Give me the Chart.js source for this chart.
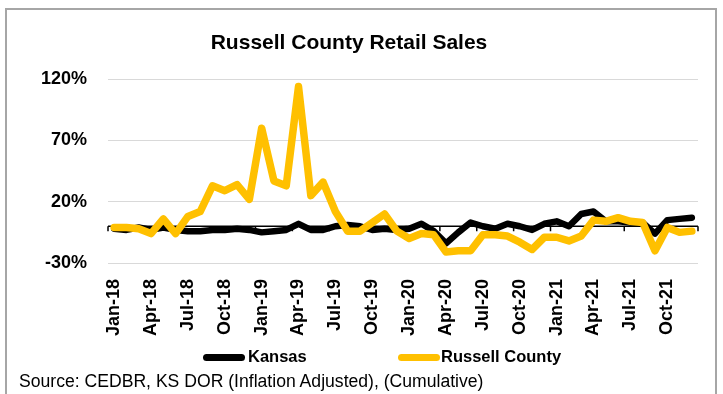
<!DOCTYPE html>
<html>
<head>
<meta charset="utf-8">
<script src="https://cdn.jsdelivr.net/npm/chart.js@4"></script>
<style>
  html, body { margin:0; padding:0; background:#fff; }
  #wrap { position:relative; width:723px; height:394px; overflow:hidden; font-family:"Liberation Sans", Arial, sans-serif; }
  #frame { position:absolute; left:5px; top:8px; width:712px; height:400px; border:2px solid #A6A6A6; box-sizing:border-box; }
  canvas { position:absolute; left:0; top:0; }
  .sw { position:absolute; height:7px; border-radius:3.5px; }
  .lt { position:absolute; font-weight:bold; font-size:16.5px; line-height:1; color:#000; white-space:nowrap; }
  #src { position:absolute; left:19px; top:373px; font-size:17.6px; line-height:1; color:#000; white-space:nowrap; }
</style>
</head>
<body>
<div id="wrap">
  <div id="frame"></div>
  <canvas id="c" width="723" height="394"></canvas>
  <div class="sw" style="left:203px; top:354px; width:42px; background:#000;"></div>
  <div class="lt" style="left:248px; top:348px;">Kansas</div>
  <div class="sw" style="left:398px; top:354px; width:42px; background:#FFC000;"></div>
  <div class="lt" style="left:441px; top:348px;">Russell County</div>
  <div id="src">Source: CEDBR, KS DOR (Inflation Adjusted), (Cumulative)</div>
</div>
<script>
const months = [
  "Jan-18","Feb-18","Mar-18","Apr-18","May-18","Jun-18","Jul-18","Aug-18","Sep-18","Oct-18","Nov-18","Dec-18",
  "Jan-19","Feb-19","Mar-19","Apr-19","May-19","Jun-19","Jul-19","Aug-19","Sep-19","Oct-19","Nov-19","Dec-19",
  "Jan-20","Feb-20","Mar-20","Apr-20","May-20","Jun-20","Jul-20","Aug-20","Sep-20","Oct-20","Nov-20","Dec-20",
  "Jan-21","Feb-21","Mar-21","Apr-21","May-21","Jun-21","Jul-21","Aug-21","Sep-21","Oct-21","Nov-21","Dec-21"
];
const kansas = [
  -2, -3, -1, -3, -1, -3, -4, -4, -3, -3, -2, -3,
  -5, -4, -3,  2, -3, -3,  0,  1,  0, -3, -2, -3,
  -2,  2, -4, -14, -5, 3,  0, -2,  2,  0, -3,  2,
   4,  0, 10, 12,  4,  4,  3,  3, -6,  5,  6,  7
];
const russell = [
  -1, -1, -2, -6,  6, -6,  8, 12, 33, 29, 34, 22,
  80, 37, 33, 114, 25, 36, 12, -4, -4,  3, 10, -4,
  -10, -6, -7, -21, -20, -20, -7, -7, -8, -13, -19, -9,
  -9, -12, -8,  5,  4,  7,  4,  3, -20, -1, -5, -4
];
const yTicks = [-30, 20, 70, 120];
const labelEvery = 3;

const zeroAxis = {
  id: 'zeroAxis',
  beforeDatasetsDraw(chart) {
    const { ctx, chartArea, scales } = chart;
    const y0 = scales.y.getPixelForValue(0);
    const xs = scales.x;
    const half = (xs.getPixelForValue(1) - xs.getPixelForValue(0)) / 2;
    ctx.save();
    ctx.strokeStyle = '#000';
    ctx.lineWidth = 1.5;
    ctx.beginPath();
    ctx.moveTo(chartArea.left, y0);
    ctx.lineTo(chartArea.right, y0);
    for (let i = 0; i <= months.length; i += labelEvery) {
      const px = i < months.length ? xs.getPixelForValue(i) - half : xs.getPixelForValue(months.length - 1) + half;
      ctx.moveTo(px, y0);
      ctx.lineTo(px, y0 + 5);
    }
    ctx.stroke();
    ctx.restore();
  }
};

new Chart(document.getElementById('c'), {
  type: 'line',
  data: {
    labels: months,
    datasets: [
      { label: 'Kansas', data: kansas, borderColor: '#000000', backgroundColor: '#000000',
        borderWidth: 6.5, pointRadius: 0, tension: 0, order: 1,
        borderJoinStyle: 'round', borderCapStyle: 'round' },
      { label: 'Russell County', data: russell, borderColor: '#FFC000', backgroundColor: '#FFC000',
        borderWidth: 7.5, pointRadius: 0, tension: 0, order: 0,
        borderJoinStyle: 'round', borderCapStyle: 'round' }
    ]
  },
  options: {
    responsive: false,
    animation: false,
    events: [],
    layout: { padding: { left: 0, right: 25, top: 0, bottom: 0 } },
    plugins: {
      legend: { display: false },
      tooltip: { enabled: false },
      title: {
        display: true,
        text: 'Russell County Retail Sales',
        color: '#000',
        font: { family: '"Liberation Sans", Arial, sans-serif', size: 21, weight: 'bold', lineHeight: 1.2 },
        padding: { top: 31, bottom: 23 }
      }
    },
    scales: {
      x: {
        type: 'category',
        offset: true,
        grid: { display: false, drawTicks: false },
        border: { display: false },
        afterFit(s) { s.height = 131; s.paddingLeft = 0; s.paddingRight = 0; },
        ticks: {
          autoSkip: false,
          minRotation: 90,
          maxRotation: 90,
          padding: 16,
          color: '#000',
          font: { family: '"Liberation Sans", Arial, sans-serif', size: 18, weight: 'bold' },
          callback(v, i) { return i % labelEvery === 0 ? months[i] : ''; }
        }
      },
      y: {
        min: -30,
        max: 120,
        afterFit(s) { s.width = 108; s.paddingTop = 0; s.paddingBottom = 0; },
        afterBuildTicks(s) { s.ticks = yTicks.map(v => ({ value: v })); },
        grid: { color: '#D9D9D9', lineWidth: 1, drawTicks: false },
        border: { display: false },
        ticks: {
          padding: 21,
          color: '#000',
          font: { family: '"Liberation Sans", Arial, sans-serif', size: 18, weight: 'bold' },
          callback(v) { return v + '%'; }
        }
      }
    }
  },
  plugins: [zeroAxis]
});
</script>
</body>
</html>
